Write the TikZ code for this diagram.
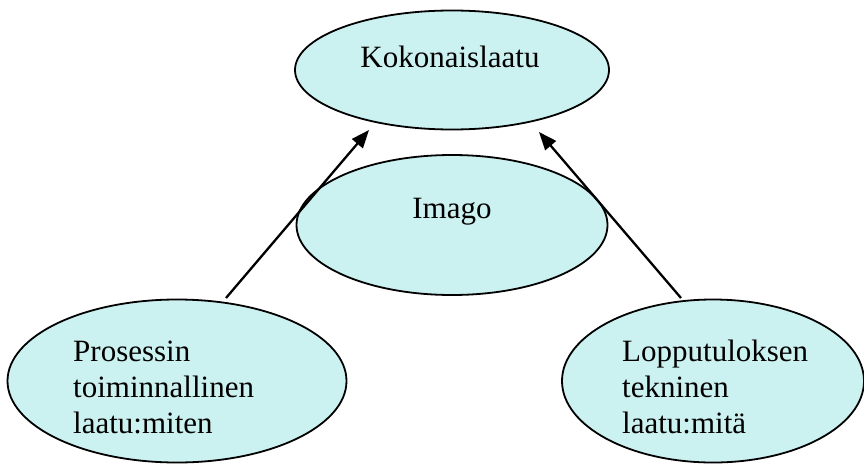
\documentclass[tikz,border=0pt]{standalone}
\usepackage{fontspec}
\setmainfont{Liberation Serif}
\usetikzlibrary{shapes.geometric,arrows.meta}
\definecolor{ellfill}{RGB}{204,241,241}
\begin{document}
\begin{tikzpicture}[x=1pt,y=-1pt,
  ell/.style={ellipse,draw=black,line width=1.8pt,fill=ellfill,inner sep=0pt},
  txt/.style={font=\fontsize{31}{36}\selectfont,inner sep=0pt,anchor=base},
  ltxt/.style={font=\fontsize{31}{36}\selectfont,inner sep=0pt,anchor=base west,align=left},
  arr/.style={line width=2.3pt,-{Triangle[length=18pt,width=14pt]}}]
\useasboundingbox (0,0) rectangle (864,463);
\node[ell,minimum width=314pt,minimum height=119pt] (koko) at (452,70) {};
\node[txt] (kokot) at (450,67) {Kokonaislaatu};
\node[ell,minimum width=311pt,minimum height=140pt] (imago) at (452,225) {};
\node[txt] (imagot) at (452,218) {Imago};
\coordinate (ls) at (226,298);
\coordinate (lt) at (369,130);
\coordinate (rs) at (681,298);
\coordinate (rt) at (539,132);
\draw[arr] (ls) -- (lt);
\draw[arr] (rs) -- (rt);
\node[ell,minimum width=339pt,minimum height=163pt] (pros) at (177,381) {};
\node[ltxt] (prost) at (73,433) {Prosessin\\toiminnallinen\\laatu:miten};
\node[ell,minimum width=302pt,minimum height=163pt] (lopp) at (713,381) {};
\node[ltxt] (loppt) at (622,433) {Lopputuloksen\\tekninen\\laatu:mitä};
\end{tikzpicture}
\end{document}
